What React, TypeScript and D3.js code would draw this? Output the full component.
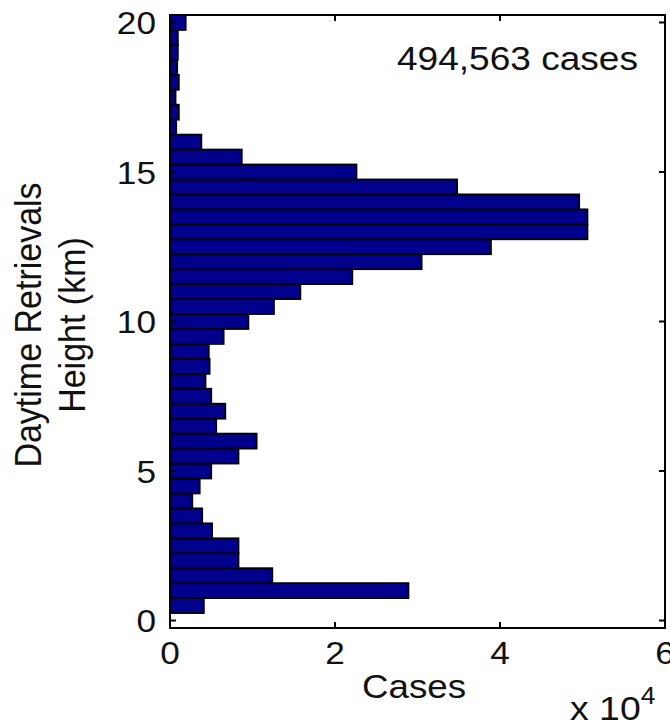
import React from "react";
import * as d3 from "d3";

// Bin centers (km) and counts (x 10^4)
const heights = [
  0.5, 1.0, 1.5, 2.0, 2.5, 3.0, 3.5, 4.0, 4.5, 5.0,
  5.5, 6.0, 6.5, 7.0, 7.5, 8.0, 8.5, 9.0, 9.5, 10.0,
  10.5, 11.0, 11.5, 12.0, 12.5, 13.0, 13.5, 14.0, 14.5, 15.0,
  15.5, 16.0, 16.5, 17.0, 17.5, 18.0, 18.5, 19.0, 19.5, 20.0,
];
const cases = [
  0.41, 2.89, 1.24, 0.83, 0.83, 0.51, 0.39, 0.27, 0.36, 0.50,
  0.83, 1.05, 0.56, 0.67, 0.50, 0.43, 0.48, 0.47, 0.65, 0.95,
  1.26, 1.58, 2.21, 3.05, 3.89, 5.06, 5.06, 4.96, 3.48, 2.26,
  0.87, 0.38, 0.075, 0.107, 0.067, 0.107, 0.087, 0.095, 0.095, 0.19,
];
const xTicks = [0, 2, 4, 6];
const yTicks = [0, 5, 10, 15, 20];
const annotation = "494,563 cases";
const xLabel = "Cases";
const yLabelLines = ["Daytime Retrievals", "Height (km)"];

const W = 670;
const H = 726;
const M = { left: 170, right: 665, top: 15, bottom: 628 };
const FONT = "'Liberation Sans', Arial, sans-serif";
const SX = 1.1;

export default function App() {
  const x = d3.scaleLinear().domain([0, 6]).range([M.left, M.right]);
  const y = d3.scaleLinear().domain([-0.25, 20.25]).range([M.bottom, M.top]);
  const binH = Math.abs(y(0.5) - y(0));
  const tickLen = 6;

  return (
    <svg
      width={W}
      height={H}
      style={{ position: "fixed", left: 0, top: 0, background: "#fff" }}
      fontFamily={FONT}
    >
      <rect x={0} y={0} width={W} height={H} fill="#fff" />
      {heights.map((h, i) => (
        <rect
          key={i}
          x={x(0)}
          y={y(h) - binH / 2}
          width={x(cases[i]) - x(0)}
          height={binH}
          fill="#00008C"
          stroke="#000"
          strokeWidth={1.8}
        />
      ))}
      {/* axis box */}
      <rect
        x={M.left}
        y={M.top}
        width={M.right - M.left}
        height={M.bottom - M.top}
        fill="none"
        stroke="#000"
        strokeWidth={2}
      />
      {xTicks.map((t) => (
        <g key={"x" + t}>
          <line x1={x(t)} x2={x(t)} y1={M.bottom} y2={M.bottom - tickLen} stroke="#000" strokeWidth={2} />
          <line x1={x(t)} x2={x(t)} y1={M.top} y2={M.top + tickLen} stroke="#000" strokeWidth={2} />
          <text
            transform={`translate(${x(t)}, 664) scale(${SX},1)`}
            textAnchor="middle"
            fontSize={32}
            fill="#111"
          >
            {t}
          </text>
        </g>
      ))}
      {yTicks.map((t) => (
        <g key={"y" + t}>
          <line x1={M.left} x2={M.left + tickLen} y1={y(t)} y2={y(t)} stroke="#000" strokeWidth={2} />
          <line x1={M.right} x2={M.right - tickLen} y1={y(t)} y2={y(t)} stroke="#000" strokeWidth={2} />
          <text
            transform={`translate(156, ${y(t)}) scale(${SX},1)`}
            dy="0.36em"
            textAnchor="end"
            fontSize={32}
            fill="#111"
          >
            {t}
          </text>
        </g>
      ))}
      <text transform={`translate(397, 70) scale(1.09,1)`} fontSize={34} fill="#111">
        {annotation}
      </text>
      <text transform={`translate(414, 698) scale(1.08,1)`} textAnchor="middle" fontSize={34} fill="#111">
        {xLabel}
      </text>
      <text transform={`translate(570, 720) scale(1.1,1)`} fontSize={34} fill="#111">
        x 10
        <tspan fontSize={24} dy={-16}>4</tspan>
      </text>
      {yLabelLines.map((l, i) => (
        <text
          key={l}
          transform={`translate(${i === 0 ? 41 : 85}, 325) rotate(-90) scale(1,1.08)`}
          textAnchor="middle"
          fontSize={34}
          fill="#111"
        >
          {l}
        </text>
      ))}
    </svg>
  );
}
